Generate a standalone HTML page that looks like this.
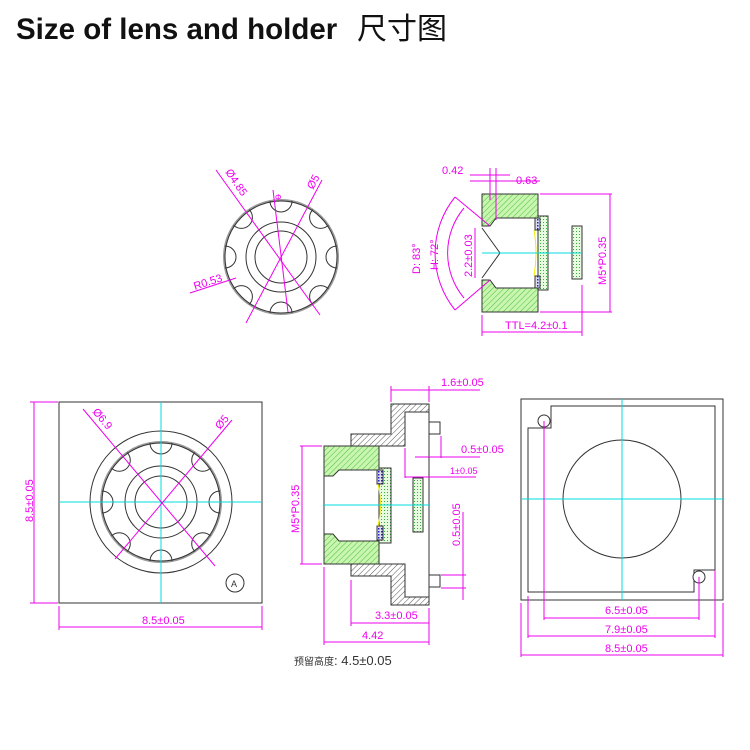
<!DOCTYPE html><html><head><meta charset="utf-8"><style>body{margin:0;background:#fff}svg{display:block}text{font-family:"Liberation Sans","Noto Sans CJK SC",sans-serif}</style></head><body>
<svg width="750" height="750" viewBox="0 0 750 750" xmlns="http://www.w3.org/2000/svg">
<defs>
<pattern id="hg" width="4" height="4" patternUnits="userSpaceOnUse" patternTransform="rotate(45)"><rect width="4" height="4" fill="#c8f5b0"/><line x1="0" y1="0" x2="0" y2="4" stroke="#4fbf3a" stroke-width="1"/></pattern>
<pattern id="hk" width="4" height="4" patternUnits="userSpaceOnUse" patternTransform="rotate(45)"><rect width="4" height="4" fill="#fff"/><line x1="0" y1="0" x2="0" y2="4" stroke="#555" stroke-width="1"/></pattern>
<pattern id="dg" width="3" height="3" patternUnits="userSpaceOnUse"><rect width="3" height="3" fill="#e6fbe0"/><rect width="1" height="1" fill="#3aaa3a"/></pattern>
<pattern id="bl" width="3" height="3" patternUnits="userSpaceOnUse"><rect width="3" height="3" fill="#dde"/><rect width="1.5" height="1.5" fill="#22c"/></pattern>
</defs>
<text x="16" y="39" font-size="29.5" font-weight="bold" fill="#111">Size of lens and holder</text>
<text x="357" y="39" font-size="30" fill="#111" font-family="'Noto Sans CJK SC',sans-serif">尺寸图</text>

<g fill="none" stroke="#333" stroke-width="1">
<circle cx="281" cy="257" r="57" stroke="#999" stroke-width="2"/>
<circle cx="281" cy="257" r="56"/>
<circle cx="281" cy="257" r="35"/>
<circle cx="281" cy="257" r="26"/>
<g id="sc">
<path d="M270 201 a11 11 0 0 0 22 0"/>
</g>
<use href="#sc" transform="rotate(45 281 257)"/><use href="#sc" transform="rotate(90 281 257)"/><use href="#sc" transform="rotate(135 281 257)"/><use href="#sc" transform="rotate(180 281 257)"/><use href="#sc" transform="rotate(225 281 257)"/><use href="#sc" transform="rotate(270 281 257)"/><use href="#sc" transform="rotate(315 281 257)"/>
</g>
<g stroke="#e0e" stroke-width="1" fill="none">
<line x1="216" y1="170" x2="320" y2="315"/><line x1="322" y1="180" x2="246" y2="323"/><line x1="273" y1="190" x2="288" y2="312"/><line x1="190" y1="293" x2="236" y2="278"/>
</g>
<g fill="#e0e" font-size="11">
<text transform="translate(225 172) rotate(56)">Ø4.85</text>
<text transform="translate(313 190) rotate(-62)">Ø5</text>
<text x="275" y="200" font-size="8">Φ</text>
<text transform="translate(195 290) rotate(-18)">R0.53</text>
</g>

<g stroke="#333" stroke-width="1">
<path d="M482 194 H538 V218 H496 L490 226 H482 Z" fill="url(#hg)"/>
<path d="M482 312 H538 V288 H496 L490 280 H482 Z" fill="url(#hg)"/>
<rect x="538" y="216" width="10" height="74" fill="url(#dg)"/>
<rect x="535" y="218" width="5" height="12" fill="url(#bl)"/><rect x="535" y="276" width="5" height="12" fill="url(#bl)"/>
<rect x="572" y="226" width="10" height="53" fill="url(#dg)"/>
<line x1="482" y1="228" x2="500" y2="253" /><line x1="482" y1="278" x2="500" y2="253"/>
</g>
<path d="M534 230 q4 23 0 46" stroke="#ee0" fill="none"/>
<line x1="482" y1="253" x2="582" y2="253" stroke="#0dd"/>
<g stroke="#e0e" fill="none">
<line x1="490" y1="168" x2="490" y2="200"/><line x1="496" y1="168" x2="496" y2="220"/><line x1="470" y1="175" x2="510" y2="175"/><line x1="470" y1="181" x2="540" y2="181"/>
<path d="M455 197 A90 90 0 0 0 455 310"/><path d="M464 208 A70 70 0 0 0 464 298"/>
<line x1="455" y1="197" x2="490" y2="226"/><line x1="455" y1="310" x2="490" y2="280"/>
<line x1="475" y1="228" x2="475" y2="278"/><line x1="540" y1="194" x2="612" y2="194"/><line x1="540" y1="312" x2="612" y2="312"/><line x1="610" y1="194" x2="610" y2="312"/>
<line x1="482" y1="315" x2="482" y2="336"/><line x1="582" y1="285" x2="582" y2="336"/><line x1="482" y1="332" x2="582" y2="332"/>
</g>
<g fill="#e0e" font-size="11">
<text x="442" y="174">0.42</text><text x="516" y="184">0.63</text>
<text transform="translate(420 274) rotate(-90)">D: 83°</text><text transform="translate(438 270) rotate(-90)">H: 72°</text>
<text transform="translate(472 277) rotate(-90)">2.2±0.03</text>
<text transform="translate(606 285) rotate(-90)">M5*P0.35</text>
<text x="505" y="329">TTL=4.2±0.1</text>
</g>

<rect x="59" y="402" width="203" height="201" fill="none" stroke="#333"/>
<g fill="none" stroke="#333">
<circle cx="161" cy="502" r="71"/><circle cx="161" cy="502" r="60" stroke="#999" stroke-width="2"/><circle cx="161" cy="502" r="59"/>
<circle cx="161" cy="502" r="36"/><circle cx="161" cy="502" r="26"/>
<g id="sc2"><path d="M150 443 a11 11 0 0 0 22 0"/></g>
<use href="#sc2" transform="rotate(45 161 502)"/><use href="#sc2" transform="rotate(90 161 502)"/><use href="#sc2" transform="rotate(135 161 502)"/><use href="#sc2" transform="rotate(180 161 502)"/><use href="#sc2" transform="rotate(225 161 502)"/><use href="#sc2" transform="rotate(270 161 502)"/><use href="#sc2" transform="rotate(315 161 502)"/>
<circle cx="235" cy="583" r="9"/>
</g>
<text x="231" y="587" font-size="9" fill="#333">A</text>
<line x1="59" y1="502" x2="262" y2="502" stroke="#0dd"/><line x1="161" y1="402" x2="161" y2="603" stroke="#0dd"/>
<g stroke="#e0e" fill="none">
<line x1="83" y1="409" x2="215" y2="566"/><line x1="232" y1="420" x2="115" y2="559"/>
<line x1="30" y1="402" x2="58" y2="402"/><line x1="30" y1="603" x2="58" y2="603"/><line x1="34" y1="402" x2="34" y2="603"/>
<line x1="59" y1="606" x2="59" y2="630"/><line x1="262" y1="606" x2="262" y2="630"/><line x1="59" y1="627" x2="262" y2="627"/>
</g>
<g fill="#e0e" font-size="11">
<text transform="translate(92 412) rotate(50)">Ø6.9</text><text transform="translate(220 430) rotate(-50)">Ø5</text>
<text transform="translate(33 522) rotate(-90)">8.5±0.05</text><text x="142" y="624">8.5±0.05</text>
</g>

<g stroke="#333">
<path d="M391 404 H429 V412 H405 V446 H351 V434 H391 Z" fill="url(#hk)"/>
<path d="M391 605 H429 V597 H405 V564 H351 V576 H391 Z" fill="url(#hk)"/>
<line x1="429" y1="404" x2="429" y2="605" fill="none"/>
<rect x="429" y="422" width="11" height="12" fill="#fff"/><rect x="429" y="575" width="11" height="12" fill="#fff"/>
<path d="M324 446 H379 V470 H339 L333 476 H324 Z" fill="url(#hg)"/>
<path d="M324 564 H379 V541 H339 L333 534 H324 Z" fill="url(#hg)"/>
<line x1="324" y1="446" x2="324" y2="564"/>
<rect x="379" y="468" width="12" height="75" fill="url(#dg)"/>
<rect x="377" y="470" width="6" height="14" fill="url(#bl)"/><rect x="377" y="526" width="6" height="14" fill="url(#bl)"/>
<rect x="413" y="478" width="10" height="54" fill="url(#dg)"/>
</g>
<path d="M378 484 q5 21 0 42" stroke="#ee0" fill="none"/>
<line x1="324" y1="505" x2="429" y2="505" stroke="#0dd"/>
<g stroke="#e0e" fill="none">
<line x1="391" y1="386" x2="391" y2="402"/><line x1="429" y1="386" x2="429" y2="402"/><line x1="391" y1="390" x2="480" y2="390"/>
<line x1="441" y1="436" x2="441" y2="458"/><line x1="415" y1="457" x2="480" y2="457"/><line x1="405" y1="448" x2="405" y2="478"/><line x1="405" y1="477" x2="476" y2="477"/>
<line x1="300" y1="446" x2="322" y2="446"/><line x1="300" y1="564" x2="322" y2="564"/><line x1="302" y1="446" x2="302" y2="564"/>
<line x1="463" y1="512" x2="463" y2="600"/><line x1="441" y1="575" x2="466" y2="575"/><line x1="441" y1="588" x2="466" y2="588"/>
<line x1="351" y1="580" x2="351" y2="626"/><line x1="429" y1="608" x2="429" y2="645"/><line x1="351" y1="623" x2="429" y2="623"/>
<line x1="324" y1="567" x2="324" y2="645"/><line x1="324" y1="642" x2="429" y2="642"/>
</g>
<g fill="#e0e" font-size="11">
<text x="441" y="386">1.6±0.05</text><text x="461" y="453">0.5±0.05</text><text x="450" y="474" font-size="9">1±0.05</text>
<text transform="translate(299 533) rotate(-90)">M5*P0.35</text><text transform="translate(460 546) rotate(-90)">0.5±0.05</text>
<text x="375" y="619">3.3±0.05</text><text x="362" y="639">4.42</text>
</g>
<text x="294" y="665" font-size="13" fill="#333"><tspan font-size="10" font-family="'Noto Sans CJK SC',sans-serif">预留高度</tspan>: 4.5±0.05</text>

<rect x="521" y="399" width="202" height="201" fill="none" stroke="#333"/>
<path d="M551 406 H715 V570 H694 V592 H528 V428 H551 Z" fill="none" stroke="#333"/>
<circle cx="544" cy="421" r="6" fill="#fff" stroke="#333"/><circle cx="699" cy="577" r="6" fill="#fff" stroke="#333"/>
<circle cx="622" cy="499" r="59" fill="none" stroke="#333"/>
<line x1="521" y1="499" x2="723" y2="499" stroke="#0dd"/><line x1="622" y1="399" x2="622" y2="600" stroke="#0dd"/>
<g stroke="#e0e" fill="none">
<line x1="544" y1="421" x2="544" y2="620"/><line x1="699" y1="577" x2="699" y2="620"/><line x1="544" y1="618" x2="699" y2="618"/>
<line x1="528" y1="596" x2="528" y2="638"/><line x1="715" y1="570" x2="715" y2="638"/><line x1="528" y1="636" x2="715" y2="636"/>
<line x1="521" y1="603" x2="521" y2="657"/><line x1="723" y1="603" x2="723" y2="657"/><line x1="521" y1="655" x2="723" y2="655"/>
</g>
<g fill="#e0e" font-size="11">
<text x="605" y="614">6.5±0.05</text><text x="605" y="633">7.9±0.05</text><text x="605" y="652">8.5±0.05</text>
</g>
</svg>
</body></html>
